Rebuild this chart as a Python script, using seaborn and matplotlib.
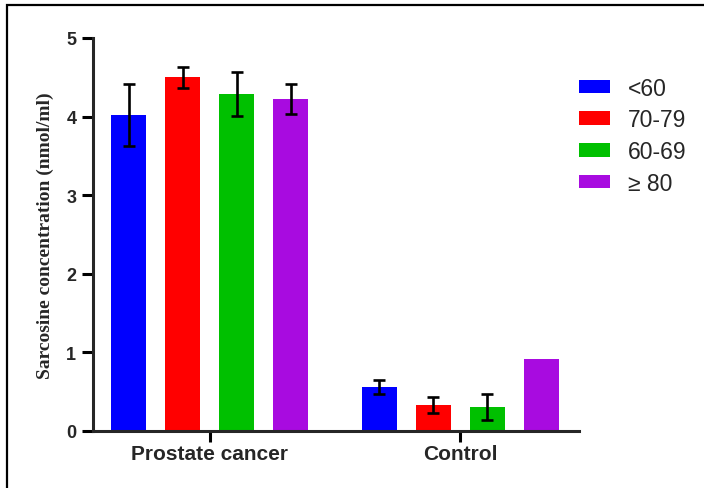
import numpy as np
import pandas as pd
import matplotlib
matplotlib.use("Agg")
import matplotlib.pyplot as plt
from matplotlib.patches import Rectangle
import seaborn as sns

groups = ["Prostate cancer", "Control"]
age_groups = ["<60", "70-79", "60-69", "≥ 80"]
colors = ["#0000FF", "#FF0000", "#00C000", "#A80BE0"]
prostate_mean = [4.02, 4.50, 4.29, 4.22]
prostate_err = [0.39, 0.13, 0.28, 0.19]
control_mean = [0.56, 0.335, 0.31, 0.91]
control_err = [0.09, 0.10, 0.165, np.nan]
y_ticks = [0, 1, 2, 3, 4, 5]

df = pd.DataFrame({
    "group": np.repeat(groups, len(age_groups)),
    "age": age_groups * len(groups),
    "value": prostate_mean + control_mean,
    "err": prostate_err + control_err,
})

sns.set_style("ticks")
plt.rcParams['font.family'] = ['Liberation Sans', 'DejaVu Sans']

fig = plt.figure(figsize=(7.04, 4.89), dpi=100)
W, H = 704, 489
ax = fig.add_axes([93 / W, 1 - 432 / H, (579 - 93) / W, (432 - 39) / H])

sns.barplot(data=df, x="group", y="value", hue="age", order=groups,
            hue_order=age_groups, palette=colors, width=0.861, gap=0.342,
            saturation=1, errorbar=None, linewidth=0, ax=ax)

bar_containers = list(ax.containers)
for i, cont in enumerate(bar_containers):
    age = age_groups[i]
    for j, bar in enumerate(cont):
        row = df[(df.age == age) & (df.group == groups[j])].iloc[0]
        if np.isnan(row.err):
            continue
        xc = bar.get_x() + bar.get_width() / 2
        ax.errorbar(xc, bar.get_height(), yerr=row.err, fmt='none',
                    ecolor='black', elinewidth=1.9, capsize=4.0, capthick=1.9,
                    zorder=5)

ax.set_xlim(-0.4645, 1.473)
ax.set_ylim(0, 5)
ax.set_yticks(y_ticks)
ax.set_xlabel("")
ax.set_ylabel("Sarcosine concentration (nmol/ml)", fontfamily='Liberation Serif',
              fontweight='bold', fontsize=14)
ax.yaxis.set_label_coords(-0.080, 0.5)

sns.despine(ax=ax)
for s in ["left", "bottom"]:
    ax.spines[s].set_linewidth(2.2)
ax.tick_params(axis='both', width=2.2, length=8, color='black')
ax.tick_params(axis='y', labelsize=13, pad=4)
ax.tick_params(axis='x', labelsize=15, pad=1.5)
for lab in ax.get_yticklabels() + ax.get_xticklabels():
    lab.set_fontweight('bold')

handles, labels = ax.get_legend_handles_labels()
ax.legend(handles, labels, loc='upper left', bbox_to_anchor=(579 / W, 1 - 77.5 / H),
          bbox_transform=fig.transFigure, frameon=False, fontsize=16.5,
          handlelength=1.37, handleheight=0.53, handletextpad=0.78,
          labelspacing=0.38, borderpad=0, borderaxespad=0)

fig.add_artist(Rectangle((7 / W, -0.05), 1.1, 1 - 5.5 / H + 0.05,
                         transform=fig.transFigure, fill=False, lw=1.6,
                         ec='black'))

fig.savefig("out.png", dpi=100)
